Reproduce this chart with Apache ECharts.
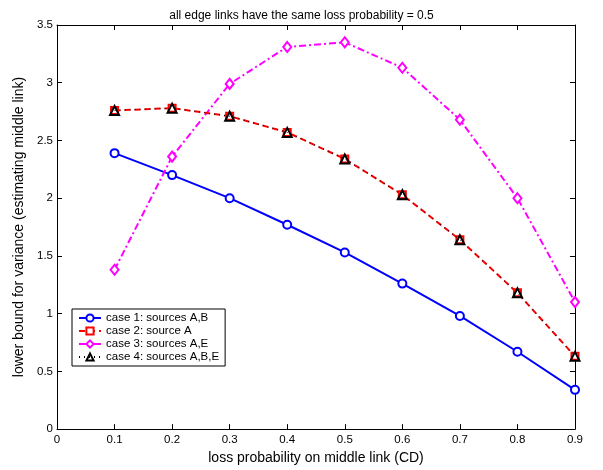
<!DOCTYPE html>
<html><head><meta charset="utf-8">
<script src="https://cdn.jsdelivr.net/npm/echarts@6/dist/echarts.min.js"></script>
<style>html,body{margin:0;padding:0;background:#fff}#c{width:603px;height:470px}</style>
</head><body><div id="c"></div>
<script>
const xValues = [0.1, 0.2, 0.3, 0.4, 0.5, 0.6, 0.7, 0.8, 0.9];
const case1 = [2.39, 2.20, 2.00, 1.77, 1.53, 1.26, 0.98, 0.67, 0.34];
const case2 = [2.76, 2.78, 2.71, 2.57, 2.34, 2.03, 1.64, 1.18, 0.63];
const case3 = [1.38, 2.36, 2.99, 3.31, 3.35, 3.13, 2.68, 2.00, 1.10];
const case4 = [2.76, 2.78, 2.71, 2.57, 2.34, 2.03, 1.64, 1.18, 0.63];
const seriesNames = ['case 1: sources A,B', 'case 2: source A', 'case 3: sources A,E', 'case 4: sources A,B,E'];
const titleText = 'all edge links have the same loss probability = 0.5';
const xName = 'loss probability on middle link (CD)';
const yName = 'lower bound for variance (estimating middle link)';

const pairs = arr => xValues.map((x, i) => [x, arr[i]]);
const font = 'Liberation Sans, Arial, sans-serif';
const chart = echarts.init(document.getElementById('c'), null, {renderer: 'canvas'});
const axisCommon = {
  axisLine: {show: true, onZero: false, lineStyle: {color: '#000', width: 1}},
  axisTick: {show: true, inside: true, length: 5, lineStyle: {color: '#000'}},
  splitLine: {show: false}
};
chart.setOption({
  animation: false,
  title: {text: titleText, left: 'center', top: 5, textStyle: {fontFamily: font, fontSize: 12, fontWeight: 'normal', color: '#000'}},
  grid: {left: 57, right: 28, top: 25, bottom: 37, show: false},
  legend: {
    orient: 'vertical', left: 72, top: 309, padding: [3, 6, 3, 6], itemGap: 1,
    itemWidth: 22, itemHeight: 9,
    borderColor: '#000', borderWidth: 1, backgroundColor: '#fff',
    textStyle: {fontFamily: font, fontSize: 11.5, color: '#000', padding: [0, 0, 0, 0]},
    data: seriesNames
  },
  xAxis: [
    Object.assign({type: 'value', min: 0, max: 0.9, interval: 0.1, position: 'bottom',
      name: xName, nameLocation: 'middle', nameGap: 18,
      nameTextStyle: {fontFamily: font, fontSize: 14, color: '#000'},
      axisLabel: {fontFamily: font, fontSize: 11.5, color: '#000', margin: 5, formatter: v => (Math.round(v * 10) / 10).toString()}}, axisCommon),
    Object.assign({type: 'value', min: 0, max: 0.9, interval: 0.1, position: 'top', axisLabel: {show: false}}, axisCommon)
  ],
  yAxis: [
    Object.assign({type: 'value', min: 0, max: 3.5, interval: 0.5, position: 'left',
      name: yName, nameLocation: 'middle', nameGap: 24,
      nameTextStyle: {fontFamily: font, fontSize: 14, color: '#000'},
      axisLabel: {fontFamily: font, fontSize: 11.5, color: '#000', margin: 4}}, axisCommon),
    Object.assign({type: 'value', min: 0, max: 3.5, interval: 0.5, position: 'right', axisLabel: {show: false}}, axisCommon)
  ],
  series: [
    {name: seriesNames[0], type: 'line', data: pairs(case1), symbol: 'circle', symbolSize: 8,
      lineStyle: {color: '#0000ff', width: 2, type: 'solid'},
      itemStyle: {color: '#fff', borderColor: '#0000ff', borderWidth: 2}, color: '#0000ff', z: 2},
    {name: seriesNames[1], type: 'line', data: pairs(case2), symbol: 'rect', symbolSize: 7,
      lineStyle: {color: '#ff0000', width: 2, type: [6, 4]},
      itemStyle: {color: '#fff', borderColor: '#ff0000', borderWidth: 2}, color: '#ff0000', z: 3},
    {name: seriesNames[2], type: 'line', data: pairs(case3), symbol: 'diamond', symbolSize: [8, 10],
      lineStyle: {color: '#ff00ff', width: 2, type: [7, 3, 2, 3]},
      itemStyle: {color: '#fff', borderColor: '#ff00ff', borderWidth: 2}, color: '#ff00ff', z: 2},
    {name: seriesNames[3], type: 'line', data: pairs(case4), symbol: 'triangle', symbolSize: 9,
      lineStyle: {color: '#000', width: 1, type: [1, 4]},
      itemStyle: {color: 'rgba(255,255,255,0)', borderColor: '#000', borderWidth: 2}, color: '#000', z: 4}
  ]
});
</script></body></html>
